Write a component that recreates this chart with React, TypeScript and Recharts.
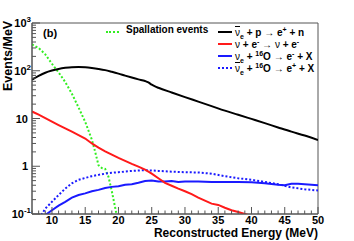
import React from "react";
import { LineChart, Line, XAxis, YAxis, ReferenceArea } from "recharts";

// inverse beta decay
const ibdE = [7, 8, 9, 10, 11, 12, 13, 14, 15, 16, 17, 18, 19, 20, 21, 22, 23, 24, 24.5, 25, 25.5, 26, 28, 30, 32, 34, 36, 38, 40, 42, 44, 46, 48, 50];
const ibdV = [65, 78, 91, 101, 109, 115, 119, 120, 118, 114, 109, 103, 95, 87, 79, 72, 66, 61, 57, 51, 47, 44, 35, 28, 22.6, 18.2, 14.6, 12, 9.8, 8, 6.5, 5.3, 4.4, 3.55];

// elastic scattering
const esE = [7, 8, 9, 10, 11, 12, 13, 14, 15, 16, 17, 18, 19, 20, 21, 22, 23, 24, 25, 26, 27, 28, 29, 30, 31, 32, 33, 34, 35, 36, 37, 38, 39, 40];
const esV = [14, 12, 10.2, 8.6, 7.3, 6.2, 5.3, 4.5, 3.8, 3.0, 2.45, 2.05, 1.75, 1.5, 1.3, 1.12, 0.98, 0.85, 0.7, 0.56, 0.45, 0.39, 0.34, 0.3, 0.26, 0.22, 0.19, 0.165, 0.155, 0.135, 0.12, 0.11, 0.1, 0.09];

// nu_e + 16O
const nuOE = [9, 10, 11, 12, 13, 14, 15, 16, 17, 18, 19, 20, 21, 22, 23, 24, 25, 26, 27, 28, 29, 30, 32, 34, 36, 38, 40, 42, 44, 45, 46, 47, 48, 50];
const nuOV = [0.095, 0.12, 0.15, 0.18, 0.22, 0.25, 0.27, 0.3, 0.32, 0.35, 0.37, 0.38, 0.41, 0.42, 0.45, 0.49, 0.5, 0.48, 0.48, 0.49, 0.47, 0.48, 0.48, 0.47, 0.47, 0.47, 0.46, 0.44, 0.41, 0.4, 0.43, 0.43, 0.42, 0.4];

// anti-nu_e + 16O
const anuOE = [8.4, 9, 10, 11, 12, 13, 14, 15, 16, 17, 18, 19, 20, 22, 24, 26, 28, 30, 32, 34, 36, 38, 40, 42, 44, 46, 48, 50];
const anuOV = [0.095, 0.13, 0.18, 0.25, 0.34, 0.44, 0.52, 0.57, 0.62, 0.66, 0.7, 0.73, 0.75, 0.8, 0.83, 0.8, 0.77, 0.75, 0.74, 0.7, 0.62, 0.56, 0.52, 0.47, 0.42, 0.36, 0.33, 0.31];

// spallation
const spE = [7, 8, 9, 10, 11, 12, 13, 14, 15, 16, 16.5, 17, 17.5, 18, 18.5, 19, 19.7, 20];
const spV = [355, 300, 220, 140, 92, 58, 33, 17, 8.5, 3.6, 2.0, 1.05, 0.92, 0.88, 0.6, 0.3, 0.1, 0.08];

const xTicks = Array.from({ length: 44 }, (_, i) => 7 + i);
const yTicks: number[] = [];
[-1, 0, 1, 2].forEach((k) => {
  for (let m = 1; m <= 9; m++) yTicks.push(Number((m * Math.pow(10, k)).toPrecision(3)));
});
yTicks.push(1000);

const zip = (es: number[], vs: number[]) => es.map((e, i) => ({ e, v: vs[i] }));

const FONT = "'Liberation Sans', Arial, sans-serif";
const AXIS = "#555";

const XTick = (props: any) => {
  const { x, y, payload } = props;
  const major = payload.value % 5 === 0;
  return (
    <g>
      <line x1={x} x2={x} y1={y} y2={y - (major ? 7 : 3.5)} stroke={AXIS} />
      {major && (
        <text x={x} y={y + 10} textAnchor="middle" fontSize={11} fontWeight="bold" fontFamily={FONT} fill="#000">
          {payload.value}
        </text>
      )}
    </g>
  );
};

const YTick = (props: any) => {
  const { x, y, payload } = props;
  const v = payload.value;
  const k = Math.round(Math.log10(v));
  const major = Math.abs(v - Math.pow(10, k)) < 1e-9;
  let label: React.ReactNode = null;
  if (major) {
    if (k === 0 || k === 1) {
      label = (
        <text x={x - 4} y={y + 4} textAnchor="end" fontSize={11} fontWeight="bold" fontFamily={FONT} fill="#000">
          {k === 0 ? "1" : "10"}
        </text>
      );
    } else {
      label = (
        <text x={x - 1} y={y + 4} textAnchor="end" fontSize={11} fontWeight="bold" fontFamily={FONT} fill="#000">
          <tspan>10</tspan>
          <tspan dy={-5} fontSize={8}>{k}</tspan>
        </text>
      );
    }
  }
  return (
    <g>
      <line x1={x} x2={x + (major ? 8 : 4)} y1={y} y2={y} stroke={AXIS} />
      {label}
    </g>
  );
};

const legendText: React.CSSProperties = {
  position: "absolute",
  fontFamily: FONT,
  fontSize: 10,
  fontWeight: "bold",
  whiteSpace: "nowrap",
  lineHeight: "12px",
};

const Nu = ({ bar }: { bar?: boolean }) => (
  <span style={{ fontWeight: "normal", textDecoration: bar ? "overline" : "none" }}>ν</span>
);

const LegendRow = ({ top, color, dash, children }: any) => (
  <>
    <div
      style={{
        position: "absolute",
        left: 218,
        top: top + 1,
        width: 14,
        borderTop: `2px ${dash ? "dotted" : "solid"} ${color}`,
      }}
    />
    <div style={{ ...legendText, left: 235, top: top - 6 }}>{children}</div>
  </>
);

export default function App() {
  return (
    <div style={{ position: "absolute", left: 0, top: 0, width: 354, height: 241, background: "#fff" }}>
      <LineChart width={354} height={241} margin={{ top: 23, right: 36, left: 0, bottom: 0 }}>
        <XAxis
          type="number"
          dataKey="e"
          domain={[7, 50]}
          ticks={xTicks}
          interval={0}
          allowDataOverflow
          height={27}
          tickSize={0}
          tickMargin={0}
          tick={<XTick />}
          axisLine={{ stroke: AXIS }}
          tickLine={false}
        />
        <YAxis
          type="number"
          scale="log"
          domain={[0.1, 1000]}
          ticks={yTicks}
          interval={0}
          allowDataOverflow
          width={32}
          tickSize={0}
          tickMargin={0}
          tick={<YTick />}
          axisLine={{ stroke: AXIS }}
          tickLine={false}
        />
        <ReferenceArea x1={7} x2={50} y1={0.1} y2={1000} fill="none" stroke={AXIS} ifOverflow="visible" />
        <Line data={zip(spE, spV)} dataKey="v" stroke="#33ee22" strokeWidth={2} strokeDasharray="2 2" dot={false} isAnimationActive={false} type="linear" />
        <Line data={zip(anuOE, anuOV)} dataKey="v" stroke="#1a1aff" strokeWidth={2} strokeDasharray="2 2" dot={false} isAnimationActive={false} type="linear" />
        <Line data={zip(nuOE, nuOV)} dataKey="v" stroke="#1a1aff" strokeWidth={2} dot={false} isAnimationActive={false} type="linear" />
        <Line data={zip(esE, esV)} dataKey="v" stroke="#ff1a1a" strokeWidth={2} dot={false} isAnimationActive={false} type="linear" />
        <Line data={zip(ibdE, ibdV)} dataKey="v" stroke="#000" strokeWidth={2} dot={false} isAnimationActive={false} type="monotone" />
      </LineChart>

      <div style={{ ...legendText, left: 8, top: 23, fontSize: 12.5, transformOrigin: "0 0", transform: "rotate(-90deg) translate(-68px, -6px)" }}>
        Events/MeV
      </div>
      <div style={{ ...legendText, right: 36, top: 228, fontSize: 12, lineHeight: "11px" }}>Reconstructed Energy (MeV)</div>
      <div style={{ ...legendText, left: 43, top: 27, fontSize: 11 }}>(b)</div>

      <div style={{ position: "absolute", left: 106, top: 31, width: 13, borderTop: "2px dotted #33ee22" }} />
      <div style={{ ...legendText, left: 126, top: 24 }}>Spallation events</div>

      <LegendRow top={30} color="#000">
        <Nu bar />
        <sub style={{ fontSize: 7 }}>e</sub> + p <span style={{ fontWeight: "normal" }}>→</span> e<sup style={{ fontSize: 7 }}>+</sup> + n
      </LegendRow>
      <LegendRow top={42} color="#ff1a1a">
        <Nu /> + e<sup style={{ fontSize: 7 }}>-</sup> <span style={{ fontWeight: "normal" }}>→</span> <Nu /> + e<sup style={{ fontSize: 7 }}>-</sup>
      </LegendRow>
      <LegendRow top={54} color="#1a1aff">
        <Nu />
        <sub style={{ fontSize: 7 }}>e</sub> + <sup style={{ fontSize: 7 }}>16</sup>O <span style={{ fontWeight: "normal" }}>→</span> e<sup style={{ fontSize: 7 }}>-</sup> + X
      </LegendRow>
      <LegendRow top={66} color="#1a1aff" dash>
        <Nu bar />
        <sub style={{ fontSize: 7 }}>e</sub> + <sup style={{ fontSize: 7 }}>16</sup>O <span style={{ fontWeight: "normal" }}>→</span> e<sup style={{ fontSize: 7 }}>+</sup> + X
      </LegendRow>
    </div>
  );
}
